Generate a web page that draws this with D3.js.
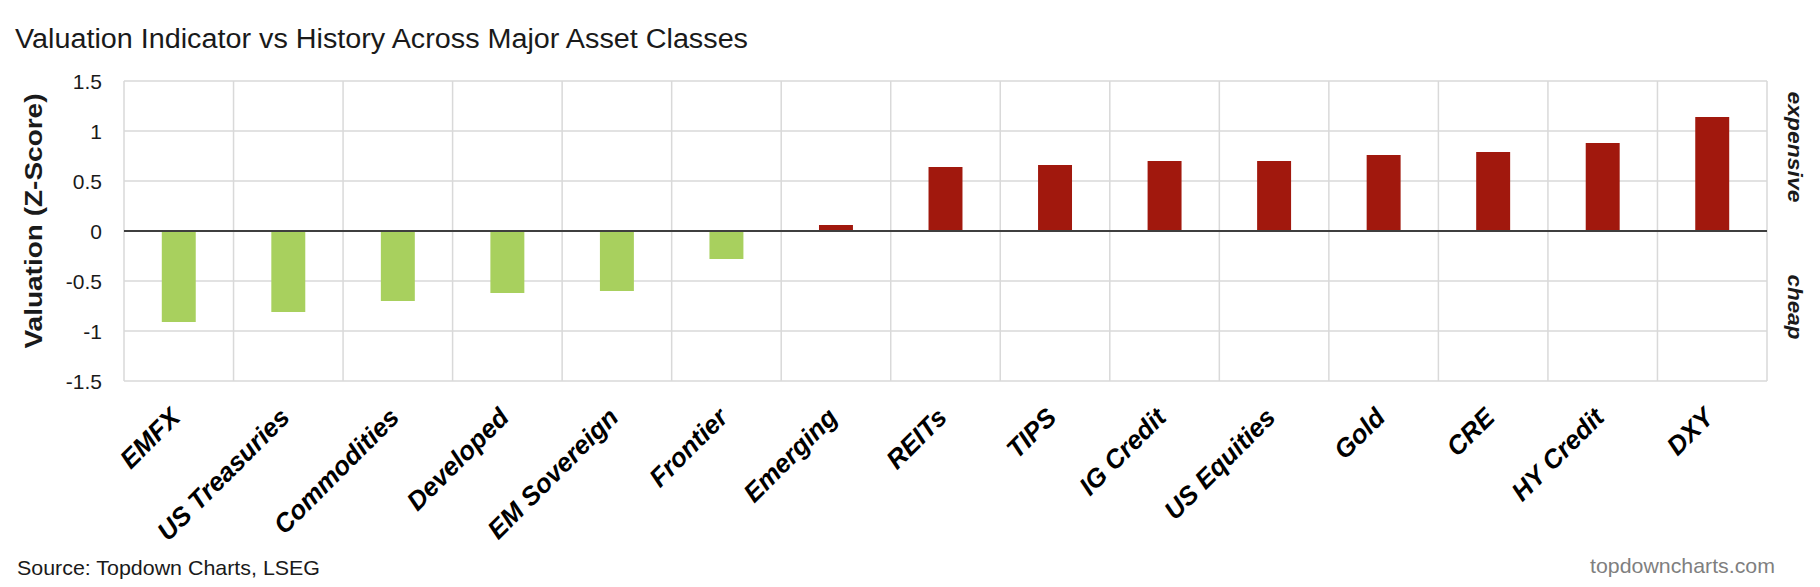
<!DOCTYPE html>
<html>
<head>
<meta charset="utf-8">
<script src="https://cdn.jsdelivr.net/npm/d3@7"></script>
<style>
  html, body { margin: 0; padding: 0; background: #fff; }
  svg { display: block; }
</style>
</head>
<body>
<svg id="chart" width="1820" height="587"></svg>
<script>
const categories = ["EMFX", "US Treasuries", "Commodities", "Developed", "EM Sovereign", "Frontier", "Emerging", "REITs", "TIPS", "IG Credit", "US Equities", "Gold", "CRE", "HY Credit", "DXY"];
const zScores = [-0.91, -0.81, -0.70, -0.62, -0.60, -0.28, 0.06, 0.64, 0.66, 0.70, 0.70, 0.76, 0.79, 0.88, 1.14];
const yTicks = [1.5, 1, 0.5, 0, -0.5, -1, -1.5];
const yTickLabels = ["1.5", "1", "0.5", "0", "-0.5", "-1", "-1.5"];

const svg = d3.select("#chart");
const plot = { left: 124, right: 1767, top: 81, bottom: 381 };

const x = d3.scaleBand().domain(categories).range([plot.left, plot.right]).padding(0);
const y = d3.scaleLinear().domain([-1.5, 1.5]).range([plot.bottom, plot.top]);
const barW = x.bandwidth() * 0.31;

const fontBase = "'Liberation Sans', Arial, sans-serif";

// Title
svg.append("text")
  .attr("x", 15).attr("y", 48)
  .attr("font-family", fontBase).attr("font-size", 27)
  .attr("fill", "#1a1a1a")
  .attr("textLength", 733).attr("lengthAdjust", "spacingAndGlyphs")
  .text("Valuation Indicator vs History Across Major Asset Classes");

// Gridlines horizontal
svg.append("g").selectAll("line").data(yTicks).join("line")
  .attr("x1", plot.left).attr("x2", plot.right)
  .attr("y1", d => y(d)).attr("y2", d => y(d))
  .attr("stroke", "#d9d9d9").attr("stroke-width", 1.5);

// Gridlines vertical (category boundaries)
const bounds = categories.map(c => x(c)).concat([plot.right]);
svg.append("g").selectAll("line").data(bounds).join("line")
  .attr("x1", d => d).attr("x2", d => d)
  .attr("y1", plot.top).attr("y2", plot.bottom)
  .attr("stroke", "#d9d9d9").attr("stroke-width", 1.5);

// Bars
svg.append("g").selectAll("rect").data(categories.map((c, i) => ({ c, v: zScores[i] }))).join("rect")
  .attr("x", d => x(d.c) + (x.bandwidth() - barW) / 2)
  .attr("width", barW)
  .attr("y", d => Math.min(y(d.v), y(0)))
  .attr("height", d => Math.abs(y(d.v) - y(0)))
  .attr("fill", d => d.v >= 0 ? "#a1180d" : "#a8d05e");

// Zero line
svg.append("line")
  .attr("x1", plot.left).attr("x2", plot.right)
  .attr("y1", y(0)).attr("y2", y(0))
  .attr("stroke", "#3f3f3f").attr("stroke-width", 2);

// Y axis tick labels
const yAxis = d3.axisLeft(y).tickValues(yTicks).tickSize(0).tickPadding(0)
  .tickFormat((d, i) => yTickLabels[i]);
const gy = svg.append("g").attr("transform", `translate(102,0)`).call(yAxis);
gy.select(".domain").remove();
gy.selectAll("text")
  .attr("font-family", fontBase).attr("font-size", 21)
  .attr("fill", "#1a1a1a").attr("dy", "0.35em");

// Y axis title
svg.append("text")
  .attr("transform", `translate(33,${(plot.top + plot.bottom) / 2 - 10}) rotate(-90)`)
  .attr("text-anchor", "middle").attr("dominant-baseline", "central")
  .attr("font-family", fontBase).attr("font-size", 24).attr("font-weight", "bold")
  .attr("fill", "#1a1a1a")
  .attr("textLength", 255).attr("lengthAdjust", "spacingAndGlyphs")
  .text("Valuation (Z-Score)");

// Right side labels
svg.append("text")
  .attr("transform", `translate(1795,147) rotate(90)`)
  .attr("text-anchor", "middle").attr("dominant-baseline", "central")
  .attr("font-family", fontBase).attr("font-size", 21).attr("font-weight", "bold").attr("font-style", "italic")
  .attr("fill", "#1a1a1a")
  .attr("textLength", 111).attr("lengthAdjust", "spacingAndGlyphs")
  .text("expensive");
svg.append("text")
  .attr("transform", `translate(1795,307) rotate(90)`)
  .attr("text-anchor", "middle").attr("dominant-baseline", "central")
  .attr("font-family", fontBase).attr("font-size", 21).attr("font-weight", "bold").attr("font-style", "italic")
  .attr("fill", "#1a1a1a")
  .attr("textLength", 65).attr("lengthAdjust", "spacingAndGlyphs")
  .text("cheap");

// Category labels
const xAxis = d3.axisBottom(x).tickSize(0).tickPadding(0);
const gx = svg.append("g").attr("transform", `translate(0,${plot.bottom})`).call(xAxis);
gx.select(".domain").remove();
gx.selectAll(".tick text")
  .attr("y", 0).attr("x", 0).attr("dy", 0)
  .attr("transform", "translate(3,38) rotate(-45)")
  .attr("text-anchor", "end")
  .attr("font-family", fontBase).attr("font-size", 26)
  .attr("font-weight", "bold").attr("font-style", "italic")
  .attr("fill", "#000");

// Footer
svg.append("text")
  .attr("x", 17).attr("y", 575)
  .attr("font-family", fontBase).attr("font-size", 21)
  .attr("fill", "#1a1a1a")
  .attr("textLength", 303).attr("lengthAdjust", "spacingAndGlyphs")
  .text("Source: Topdown Charts, LSEG");
svg.append("text")
  .attr("x", 1775).attr("y", 573)
  .attr("text-anchor", "end")
  .attr("font-family", fontBase).attr("font-size", 21)
  .attr("fill", "#7f7f7f")
  .attr("textLength", 185).attr("lengthAdjust", "spacingAndGlyphs")
  .text("topdowncharts.com");
</script>
</body>
</html>
